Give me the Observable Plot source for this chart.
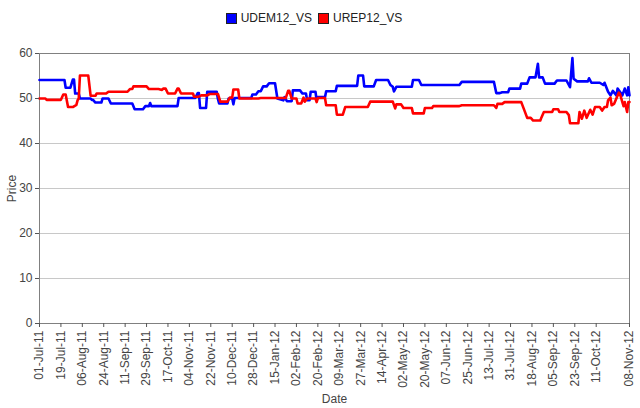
<!DOCTYPE html>
<html><head><meta charset="utf-8">
<script src="https://cdn.jsdelivr.net/npm/d3@7"></script>
<script src="https://cdn.jsdelivr.net/npm/@observablehq/plot@0.6"></script>
<style>
body{margin:0;background:#fff;font-family:"Liberation Sans",Arial,sans-serif;}
#legend{height:34px;display:flex;justify-content:center;align-items:center;font-size:12px;color:#222;padding-right:12px;box-sizing:border-box;padding-top:2px;}
.item{display:flex;align-items:center;margin:0 3px;}
.sw{width:9px;height:9px;border:1px solid #222;margin-right:4px;}
</style></head><body>
<div id="legend"></div><div id="chart"></div>
<script>
const seriesNames = ["UDEM12_VS", "UREP12_VS"];
const seriesColors = ["#0000ff", "#ff0000"];

const udemDates = ["2011-07-01","2011-07-22","2011-07-23","2011-07-27","2011-07-29","2011-07-30","2011-07-31","2011-08-03","2011-08-04","2011-08-13",
"2011-08-14","2011-08-15","2011-08-17","2011-08-22","2011-08-23","2011-08-28","2011-08-30","2011-09-17","2011-09-19","2011-09-26",
"2011-09-28","2011-10-01","2011-10-02","2011-10-03","2011-10-25","2011-10-26","2011-11-09","2011-11-11","2011-11-12","2011-11-13",
"2011-11-18","2011-11-19","2011-11-27","2011-11-28","2011-11-29","2011-12-06","2011-12-07","2011-12-10","2011-12-11","2011-12-12",
"2011-12-26","2011-12-27","2011-12-30","2012-01-01","2012-01-03","2012-01-05","2012-01-08","2012-01-10","2012-01-15","2012-01-17",
"2012-01-22","2012-01-23","2012-01-25","2012-01-29","2012-01-30","2012-02-05","2012-02-07","2012-02-10","2012-02-11","2012-02-13",
"2012-02-14","2012-02-18","2012-02-19","2012-02-20","2012-02-26","2012-02-27","2012-03-06","2012-03-07","2012-03-24","2012-03-25",
"2012-03-29","2012-03-30","2012-04-07","2012-04-09","2012-04-19","2012-04-21","2012-04-23","2012-04-24","2012-04-26","2012-05-09",
"2012-05-10","2012-05-15","2012-05-17","2012-06-18","2012-06-20","2012-07-17","2012-07-19","2012-07-22","2012-07-24","2012-07-29",
"2012-07-30","2012-08-08","2012-08-09","2012-08-14","2012-08-16","2012-08-21","2012-08-23","2012-08-24","2012-08-27","2012-08-29",
"2012-09-06","2012-09-08","2012-09-16","2012-09-19","2012-09-21","2012-09-22","2012-09-25","2012-10-04","2012-10-05","2012-10-07",
"2012-10-14","2012-10-17","2012-10-18","2012-10-21","2012-10-23","2012-10-25","2012-10-28","2012-10-29","2012-11-02","2012-11-04",
"2012-11-06","2012-11-07","2012-11-08"];
const udemValues = [54.1,54.1,52.4,52.4,54.2,54.2,51.1,51.1,50,50,
49.7,49.7,49.1,49.1,50,50,48.9,48.9,47.6,47.6,
48.3,48.3,49,48.3,48.3,50.1,50.1,51.2,51.2,47.9,
47.9,51.5,51.5,49.9,48.9,48.9,50,50,48.7,50.1,
50.1,50.9,50.9,51.6,51.6,52.7,52.7,53.4,53.4,50,
49.6,50.3,49.4,49.4,51.8,51.8,51.1,51.1,49.6,49.6,
51.5,51.5,49.6,50.3,50.3,51.6,51.6,52.8,52.8,55.1,
55.1,52.7,52.7,54.1,54.1,53,52.6,51.6,52.6,52.6,
54.1,54.1,53,53,53.7,53.7,51.2,51.2,51.4,51.4,
52.2,52.2,53.3,53.3,54.7,54.7,57.7,54.7,54.7,53.3,
53.3,54,54,52.5,59,54.4,53.8,53.8,54.5,53.5,
53.5,53,53.5,51.5,50.7,51.7,50.7,52.2,50.7,52.2,
50.7,52.5,50.7];

const urepDates = ["2011-07-01","2011-07-06","2011-07-07","2011-07-19","2011-07-21","2011-07-23","2011-07-25","2011-07-29","2011-08-01","2011-08-02",
"2011-08-03","2011-08-04","2011-08-11","2011-08-13","2011-08-17","2011-08-18","2011-08-26","2011-08-28","2011-09-13","2011-09-15",
"2011-09-17","2011-09-18","2011-09-29","2011-10-01","2011-10-09","2011-10-12","2011-10-13","2011-10-15","2011-10-17","2011-10-23",
"2011-10-25","2011-10-26","2011-10-28","2011-11-07","2011-11-08","2011-11-12","2011-11-14","2011-11-19","2011-11-21","2011-11-28",
"2011-11-30","2011-12-06","2011-12-08","2011-12-10","2011-12-11","2011-12-15","2011-12-16","2012-01-01","2012-01-03","2012-01-24",
"2012-01-26","2012-01-27","2012-01-29","2012-02-02","2012-02-03","2012-02-06","2012-02-08","2012-02-09","2012-02-11","2012-02-18",
"2012-02-19","2012-02-20","2012-02-26","2012-02-27","2012-03-06","2012-03-07","2012-03-12","2012-03-14","2012-04-02","2012-04-04",
"2012-04-23","2012-04-25","2012-04-26","2012-04-30","2012-05-02","2012-05-09","2012-05-10","2012-05-19","2012-05-20","2012-05-26",
"2012-05-27","2012-06-18","2012-06-20","2012-07-17","2012-07-19","2012-07-20","2012-07-24","2012-07-26","2012-08-09","2012-08-11",
"2012-08-14","2012-08-17","2012-08-19","2012-08-25","2012-08-26","2012-08-28","2012-09-04","2012-09-05","2012-09-09","2012-09-10",
"2012-09-16","2012-09-18","2012-09-19","2012-09-26","2012-09-27","2012-09-29","2012-10-01","2012-10-03","2012-10-06","2012-10-08",
"2012-10-10","2012-10-14","2012-10-16","2012-10-18","2012-10-20","2012-10-21","2012-10-23","2012-10-24","2012-10-26","2012-10-30",
"2012-10-31","2012-11-02","2012-11-03","2012-11-04","2012-11-06","2012-11-07","2012-11-08"];
const urepValues = [50,50,49.7,49.7,50.9,50.9,48.1,48.1,48.6,49.6,
50,55.1,55.1,50.6,50.6,51.1,51.1,51.5,51.5,52.1,
52.1,52.7,52.7,52.1,52.1,51.9,52.2,52.2,51.1,51.1,
52.2,52.2,51.1,51.1,50.4,50.4,50.7,50.7,51,51,
49.3,49.3,50.2,50.2,52,52,50,50,50.1,50.1,
51.7,51.7,50,50,48.9,48.9,50.2,49.3,50,50,
49.2,50.1,50.1,48.5,48.5,46.4,46.4,48.1,48.1,49.3,
49.3,47.8,48.7,48.7,47.9,47.9,46.7,46.7,47.9,47.9,
48.3,48.3,48.5,48.5,47.9,48.8,48.8,49.2,49.2,47.8,
45.7,45.7,45.1,45.1,45.8,47,47,47.6,47.6,47,
47,46.3,44.5,44.5,47,45.5,47.3,45.7,47.5,46.4,
48.1,48.1,47.3,48.1,48.1,49.6,50.2,48.5,48.8,51.3,
51,49.2,48.3,49.2,47,49.2,49.2];

const xTickDates = ["2011-07-01","2011-07-19","2011-08-06","2011-08-24","2011-09-11","2011-09-29","2011-10-17","2011-11-04","2011-11-22","2011-12-10",
"2011-12-28","2012-01-15","2012-02-02","2012-02-20","2012-03-09","2012-03-27","2012-04-14","2012-05-02","2012-05-20","2012-06-07",
"2012-06-25","2012-07-13","2012-07-31","2012-08-18","2012-09-05","2012-09-23","2012-10-11","2012-11-08"];
const yTicks = [0,10,20,30,40,50,60];
const xDomain = ["2011-07-01","2012-11-08"];

const rows = [];
udemDates.forEach((d,i) => rows.push({date: new Date(d), value: udemValues[i], series: seriesNames[0]}));
urepDates.forEach((d,i) => rows.push({date: new Date(d), value: urepValues[i], series: seriesNames[1]}));

const legend = document.getElementById("legend");
seriesNames.forEach((n,i) => {
  const it = document.createElement("div"); it.className = "item";
  const sw = document.createElement("div"); sw.className = "sw"; sw.style.background = seriesColors[i];
  const t = document.createElement("span"); t.textContent = n;
  it.appendChild(sw); it.appendChild(t); legend.appendChild(it);
});

const fmt = d3.utcFormat("%d-%b-%y");
const chart = Plot.plot({
  width: 640, height: 374,
  marginTop: 19, marginBottom: 85, marginLeft: 39, marginRight: 11,
  style: {fontFamily: "'Liberation Sans', Arial, sans-serif", fontSize: "12px", color: "#444", background: "#fff", overflow: "visible"},
  x: {type: "utc", domain: xDomain.map(d => new Date(d))},
  y: {domain: [0, 60]},
  color: {domain: seriesNames, range: seriesColors},
  marks: [
    Plot.gridY(yTicks.slice(1, -1), {stroke: "#c8c8c8", strokeOpacity: 1}),
    Plot.frame({stroke: "#808080"}),
    Plot.line(rows, {x: "date", y: "value", z: "series", stroke: "series", strokeWidth: 2.6}),
    Plot.axisX({ticks: xTickDates.map(d => new Date(d)), tickFormat: fmt, tickRotate: -90, tickSize: 4, tickPadding: 3, fontSize: 12,
      label: "Date", labelAnchor: "center", labelArrow: "none", labelOffset: 79, stroke: "#555"}),
    Plot.axisY({ticks: yTicks, tickSize: 4, tickPadding: 3, fontSize: 12, label: "Price", labelAnchor: "center", labelArrow: "none", labelOffset: 32, stroke: "#555"})
  ]
});
document.getElementById("chart").appendChild(chart);
</script></body></html>
